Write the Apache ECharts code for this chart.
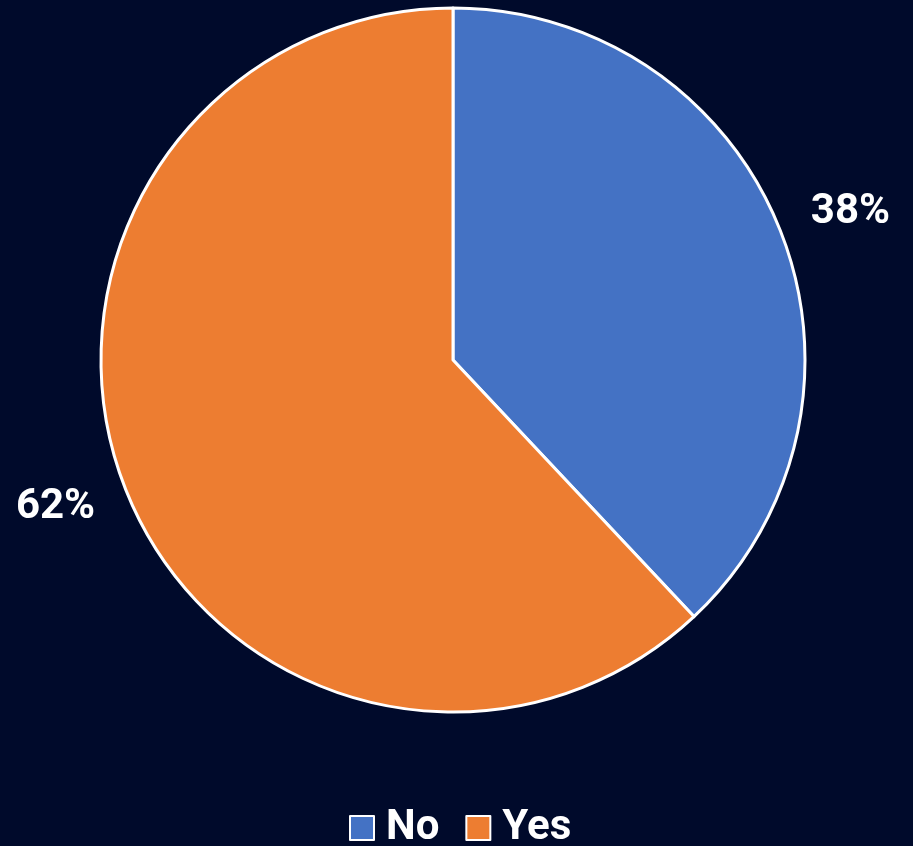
<!DOCTYPE html>
<html>
<head>
<meta charset="utf-8">
<script src="https://cdn.jsdelivr.net/npm/echarts@6/dist/echarts.min.js"></script>
<style>
html,body{margin:0;padding:0;background:#000a2b;}
#c{width:913px;height:846px;}
</style>
</head>
<body>
<div id="c"></div>
<script>
const categories = ['No', 'Yes'];
const values = [38, 62];
const colors = ['#4472C4', '#ED7D31'];

const chart = echarts.init(document.getElementById('c'), null, {renderer: 'canvas'});
chart.setOption({
  backgroundColor: '#000a2b',
  animation: false,
  legend: {
    top: 807,
    left: 349,
    padding: 0,
    itemWidth: 24,
    itemHeight: 24,
    itemGap: 26,
    icon: 'rect',
    data: categories,
    textStyle: {color: '#ffffff', fontSize: 42, fontWeight: 'bold', fontFamily: 'Roboto', padding: [0, 0, 0, 7]}
  },
  series: [{
    type: 'pie',
    center: [453, 360],
    radius: [0, 352],
    startAngle: 90,
    clockwise: true,
    avoidLabelOverlap: false,
    itemStyle: {borderColor: '#ffffff', borderWidth: 3},
    label: {
      show: true,
      position: 'outside',
      formatter: '{d}%',
      color: '#ffffff',
      fontSize: 42,
      fontWeight: 'bold',
      fontFamily: 'Roboto',
      distanceToLabelLine: -15
    },
    labelLine: {show: false, length: 49, length2: 0},
    data: categories.map((c, i) => ({name: c, value: values[i], itemStyle: {color: colors[i]}}))
  }]
});
</script>
</body>
</html>
